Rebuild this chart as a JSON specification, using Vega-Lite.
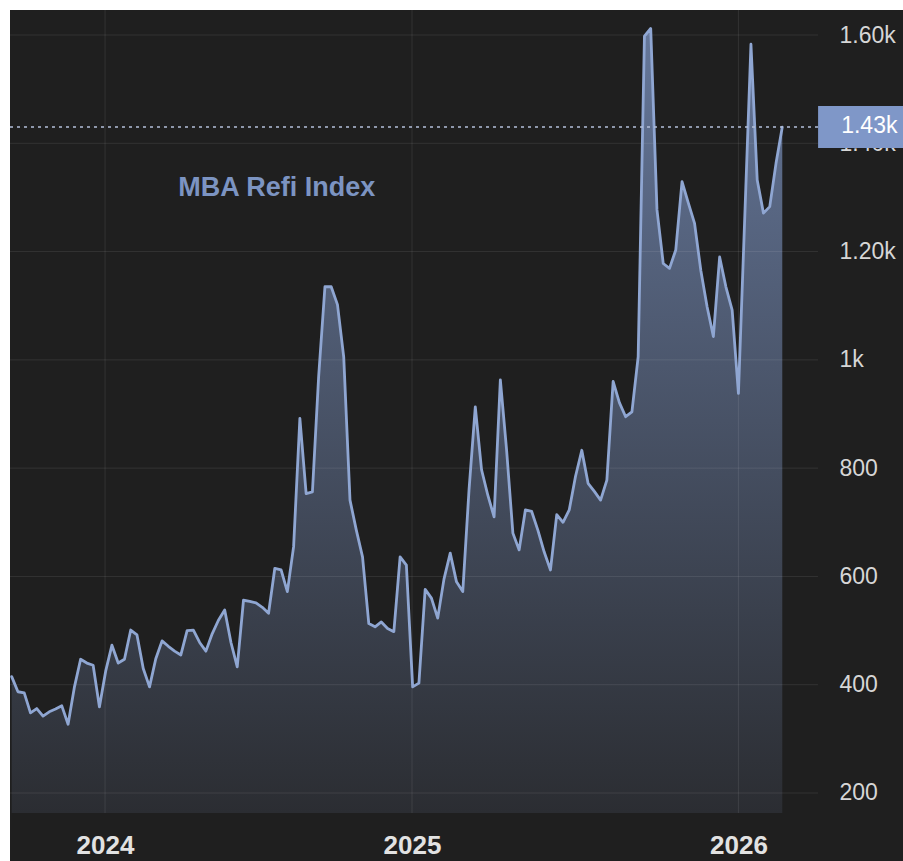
{
  "$schema": "https://vega.github.io/schema/vega-lite/v6.json",
  "width": 893,
  "height": 851,
  "autosize": "none",
  "padding": {"left": 10, "top": 10, "right": 0, "bottom": 0},
  "background": "#ffffff",
  "view": {"fill": "#1f1f1f", "stroke": null},
  "datasets": {
    "refi": [
      {"w": 0, "v": 415}, {"w": 1, "v": 387}, {"w": 2, "v": 385}, {"w": 3, "v": 348}, {"w": 4, "v": 356},
      {"w": 5, "v": 342}, {"w": 6, "v": 350}, {"w": 7, "v": 355}, {"w": 8, "v": 361}, {"w": 9, "v": 327},
      {"w": 10, "v": 395}, {"w": 11, "v": 447}, {"w": 12, "v": 440}, {"w": 13, "v": 436}, {"w": 14, "v": 359},
      {"w": 15, "v": 425}, {"w": 16, "v": 473}, {"w": 17, "v": 440}, {"w": 18, "v": 447}, {"w": 19, "v": 501},
      {"w": 20, "v": 492}, {"w": 21, "v": 430}, {"w": 22, "v": 396}, {"w": 23, "v": 448}, {"w": 24, "v": 481},
      {"w": 25, "v": 471}, {"w": 26, "v": 462}, {"w": 27, "v": 455}, {"w": 28, "v": 500}, {"w": 29, "v": 501},
      {"w": 30, "v": 478}, {"w": 31, "v": 462}, {"w": 32, "v": 494}, {"w": 33, "v": 519}, {"w": 34, "v": 538},
      {"w": 35, "v": 478}, {"w": 36, "v": 433}, {"w": 37, "v": 556}, {"w": 38, "v": 554}, {"w": 39, "v": 551},
      {"w": 40, "v": 543}, {"w": 41, "v": 532}, {"w": 42, "v": 615}, {"w": 43, "v": 612}, {"w": 44, "v": 572},
      {"w": 45, "v": 655}, {"w": 46, "v": 892}, {"w": 47, "v": 753}, {"w": 48, "v": 756}, {"w": 49, "v": 970},
      {"w": 50, "v": 1135}, {"w": 51, "v": 1135}, {"w": 52, "v": 1102}, {"w": 53, "v": 1005}, {"w": 54, "v": 741},
      {"w": 55, "v": 686}, {"w": 56, "v": 636}, {"w": 57, "v": 513}, {"w": 58, "v": 507}, {"w": 59, "v": 516},
      {"w": 60, "v": 504}, {"w": 61, "v": 498}, {"w": 62, "v": 636}, {"w": 63, "v": 621}, {"w": 64, "v": 396},
      {"w": 65, "v": 403}, {"w": 66, "v": 576}, {"w": 67, "v": 560}, {"w": 68, "v": 523}, {"w": 69, "v": 595},
      {"w": 70, "v": 643}, {"w": 71, "v": 590}, {"w": 72, "v": 572}, {"w": 73, "v": 760}, {"w": 74, "v": 913},
      {"w": 75, "v": 797}, {"w": 76, "v": 750}, {"w": 77, "v": 710}, {"w": 78, "v": 963}, {"w": 79, "v": 833},
      {"w": 80, "v": 680}, {"w": 81, "v": 649}, {"w": 82, "v": 723}, {"w": 83, "v": 720}, {"w": 84, "v": 685},
      {"w": 85, "v": 645}, {"w": 86, "v": 612}, {"w": 87, "v": 714}, {"w": 88, "v": 700}, {"w": 89, "v": 723},
      {"w": 90, "v": 785}, {"w": 91, "v": 833}, {"w": 92, "v": 772}, {"w": 93, "v": 757}, {"w": 94, "v": 741},
      {"w": 95, "v": 778}, {"w": 96, "v": 960}, {"w": 97, "v": 921}, {"w": 98, "v": 895}, {"w": 99, "v": 904},
      {"w": 100, "v": 1006}, {"w": 101, "v": 1598}, {"w": 102, "v": 1612}, {"w": 103, "v": 1277}, {"w": 104, "v": 1178},
      {"w": 105, "v": 1169}, {"w": 106, "v": 1203}, {"w": 107, "v": 1329}, {"w": 108, "v": 1290}, {"w": 109, "v": 1252},
      {"w": 110, "v": 1165}, {"w": 111, "v": 1098}, {"w": 112, "v": 1043}, {"w": 113, "v": 1190}, {"w": 114, "v": 1135},
      {"w": 115, "v": 1092}, {"w": 116, "v": 938}, {"w": 117, "v": 1260}, {"w": 118, "v": 1583}, {"w": 119, "v": 1332},
      {"w": 120, "v": 1271}, {"w": 121, "v": 1283}, {"w": 122, "v": 1363}, {"w": 123, "v": 1430}
    ],
    "grid": [
      {"v": 200}, {"v": 400}, {"v": 600}, {"v": 800}, {"v": 1000}, {"v": 1200}, {"v": 1400}, {"v": 1600}
    ],
    "years": [
      {"w": 14.9, "year": "2024"}, {"w": 63.9, "year": "2025"}, {"w": 116, "year": "2026"}
    ],
    "last": [
      {"w": 123, "v": 1430}
    ],
    "label": [
      {"w": 42.3, "v": 1317, "name": "MBA Refi Index"}
    ]
  },
  "config": {
    "axisX": {
      "orient": "bottom",
      "offset": -48,
      "grid": false,
      "ticks": false,
      "tickSize": 0,
      "domain": false,
      "title": null,
      "labelPadding": 32,
      "labelBaseline": "middle",
      "labelFont": "Liberation Sans",
      "labelFontWeight": "bold",
      "labelFontSize": 26,
      "labelColor": "#e2e2e2"
    },
    "axisY": {
      "orient": "right",
      "offset": -85,
      "grid": false,
      "ticks": false,
      "tickSize": 0,
      "domain": false,
      "title": null,
      "labelPadding": 21,
      "labelAlign": "left",
      "labelBaseline": "middle",
      "labelFont": "Liberation Sans",
      "labelFontSize": 23,
      "labelColor": "#d6d6d6"
    }
  },
  "layer": [
    {
      "data": {"name": "refi"},
      "mark": {
        "type": "area",
        "line": false,
        "color": {
          "gradient": "linear",
          "x1": 0, "y1": 0, "x2": 0, "y2": 1,
          "stops": [
            {"offset": 0, "color": "#65779a"},
            {"offset": 1, "color": "#2b2d32"}
          ]
        }
      },
      "encoding": {
        "x": {
          "field": "w",
          "type": "quantitative",
          "scale": {"domain": [-0.27, 142.27], "nice": false, "zero": false},
          "axis": {
            "orient": "bottom",
            "offset": -48,
            "title": null,
            "values": [14.9, 63.9, 116],
            "labelExpr": "datum.value < 40 ? '2024' : datum.value < 90 ? '2025' : '2026'"
          }
        },
        "y": {
          "field": "v",
          "type": "quantitative",
          "scale": {"domain": [74.4, 1646.2], "nice": false, "zero": false},
          "axis": {
            "orient": "right",
            "offset": -85,
            "title": null,
            "values": [200, 400, 600, 800, 1000, 1200, 1400, 1600],
            "labelExpr": "datum.value == 1000 ? '1k' : datum.value > 1000 ? format(datum.value, '.3s') : format(datum.value, 'd')"
          }
        },
        "y2": {"datum": 163}
      }
    },
    {
      "data": {"name": "grid"},
      "mark": {"type": "rule", "color": "#ffffff", "opacity": 0.09, "strokeWidth": 1},
      "encoding": {
        "y": {"field": "v", "type": "quantitative"},
        "x": {"datum": -0.27},
        "x2": {"datum": 128.7}
      }
    },
    {
      "data": {"name": "years"},
      "mark": {"type": "rule", "color": "#ffffff", "opacity": 0.09, "strokeWidth": 1},
      "encoding": {
        "x": {"field": "w", "type": "quantitative"},
        "y": {"datum": 163},
        "y2": {"datum": 1646.2}
      }
    },
    {
      "mark": {"type": "rule", "color": "#2e3240", "strokeWidth": 1.5},
      "encoding": {
        "x": {"datum": 128.7},
        "y": {"datum": 163},
        "y2": {"datum": 1646.2}
      }
    },
    {
      "mark": {"type": "rule", "color": "#2a2c33", "strokeWidth": 1.5},
      "encoding": {
        "y": {"datum": 163},
        "x": {"datum": -0.27},
        "x2": {"datum": 128.7}
      }
    },
    {
      "data": {"name": "refi"},
      "mark": {"type": "line", "color": "#8fa6d2", "strokeWidth": 2.8, "strokeJoin": "round", "strokeCap": "round"},
      "encoding": {
        "x": {"field": "w", "type": "quantitative"},
        "y": {"field": "v", "type": "quantitative"}
      }
    },
    {
      "data": {"name": "last"},
      "mark": {"type": "rule", "color": "#b4c0da", "strokeWidth": 1.5, "strokeDash": [3, 4]},
      "encoding": {
        "y": {"field": "v", "type": "quantitative"},
        "x": {"datum": -0.27},
        "x2": {"datum": 128.7}
      }
    },
    {
      "data": {"name": "last"},
      "mark": {"type": "tick", "orient": "horizontal", "size": 85, "thickness": 42, "color": "#7f97c8", "opacity": 1},
      "encoding": {
        "y": {"field": "v", "type": "quantitative"},
        "x": {"datum": 135.5}
      }
    },
    {
      "data": {"name": "last"},
      "mark": {"type": "text", "align": "left", "baseline": "middle", "font": "Liberation Sans", "fontSize": 23, "color": "#ffffff", "dy": -1},
      "encoding": {
        "y": {"field": "v", "type": "quantitative"},
        "x": {"datum": 132.4},
        "text": {"field": "v", "type": "quantitative", "format": ".3s"}
      }
    },
    {
      "data": {"name": "label"},
      "mark": {"type": "text", "align": "center", "baseline": "middle", "font": "Liberation Sans", "fontWeight": "bold", "fontSize": 27, "color": "#7c94c2"},
      "encoding": {
        "x": {"field": "w", "type": "quantitative"},
        "y": {"field": "v", "type": "quantitative"},
        "text": {"field": "name"}
      }
    }
  ]
}
